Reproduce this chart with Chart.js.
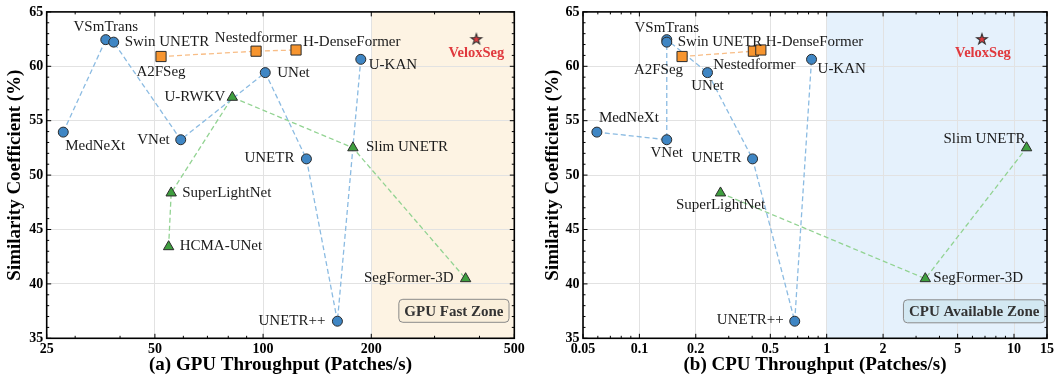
<!DOCTYPE html>
<html>
<head>
<meta charset="utf-8">
<script src="https://cdn.jsdelivr.net/npm/chart.js@4.4.1/dist/chart.umd.min.js"></script>
<style>
  html, body { margin: 0; padding: 0; background: #fff; }
  #wrap { position: relative; width: 1057px; height: 377px; overflow: hidden; }
  #gpu { position: absolute; left: 0; top: 0; }
  #cpu { position: absolute; left: 538px; top: 0; }
</style>
</head>
<body>
<div id="wrap">
  <canvas id="gpu" width="538" height="377"></canvas>
  <canvas id="cpu" width="519" height="377"></canvas>
</div>
<script>
// ---- data ---------------------------------------------------------------
const models = ['MedNeXt', 'VSmTrans', 'Swin UNETR', 'VNet', 'UNet', 'UNETR', 'UNETR++', 'U-KAN',
                'A2FSeg', 'Nestedformer', 'H-DenseFormer',
                'U-RWKV', 'Slim UNETR', 'SuperLightNet', 'HCMA-UNet', 'SegFormer-3D',
                'VeloxSeg'];
const groups = ['general', 'general', 'general', 'general', 'general', 'general', 'general', 'general',
                'multimodal', 'multimodal', 'multimodal',
                'lightweight', 'lightweight', 'lightweight', 'lightweight', 'lightweight',
                'ours'];
// patches per second
const gpuThroughput = [27.8, 36.5, 38.4, 59.0, 101.4, 132, 161, 187,
                       52.0, 95.6, 123.5,
                       82.1, 177.8, 55.5, 54.6, 366,
                       392];
const cpuThroughput = [0.0593, 0.140, 0.140, 0.140, 0.231, 0.402, 0.675, 0.83,
                       0.169, 0.406, 0.445,
                       null, 11.67, 0.271, null, 3.36,
                       6.74];
// similarity coefficient (%)
const similarity = [53.95, 62.45, 62.22, 53.25, 59.42, 51.49, 36.57, 60.64,
                    60.90, 61.39, 61.50,
                    57.15, 52.51, 48.36, 43.42, 40.48,
                    62.51];

const gpuTicks = [25, 50, 100, 200, 500];
const cpuTicks = [0.05, 0.1, 0.2, 0.5, 1, 2, 5, 10, 15];
const similarityTicks = [35, 40, 45, 50, 55, 60, 65];

// ---- styling ------------------------------------------------------------
const SERIF = "'Liberation Serif', 'Times New Roman', Times, serif";
const EDGE = '#2b2b2b';

const groupStyle = {
  general:     { fill: '#3f86c4', line: '#8bbbe2', pointStyle: 'circle',   radius: 5.0 },
  multimodal:  { fill: '#f7952f', line: '#f8bd86', pointStyle: 'rect',     radius: 7.2 },
  lightweight: { fill: '#3f9f3f', line: '#92d392', pointStyle: 'triangle', radius: 6.0 }
};

function starMarker() {
  const c = document.createElement('canvas');
  c.width = 16; c.height = 16;
  const g = c.getContext('2d');
  g.beginPath();
  for (let i = 0; i < 10; i++) {
    const r = i % 2 ? 2.2 : 5.6;
    const a = -Math.PI / 2 + i * Math.PI / 5;
    g.lineTo(8 + r * Math.cos(a), 8.4 + r * Math.sin(a));
  }
  g.closePath();
  g.fillStyle = '#e03a3f';
  g.fill();
  g.lineWidth = 1.1;
  g.strokeStyle = '#333';
  g.stroke();
  return c;
}

// label placement: [align, dx, dy] relative to the marker
const gpuPlacement = {
  'MedNeXt': ['left', 2, 14], 'VSmTrans': ['center', 0, -13], 'Swin UNETR': ['left', 11, 0],
  'A2FSeg': ['center', 0, 16], 'Nestedformer': ['center', 0, -13], 'H-DenseFormer': ['left', 7, -8],
  'UNet': ['left', 12, 0], 'U-KAN': ['left', 8, 6], 'U-RWKV': ['right', -7, 0],
  'VNet': ['right', -11, 0], 'Slim UNETR': ['left', 13, -1], 'UNETR': ['right', -12, -1],
  'SuperLightNet': ['left', 11, 0], 'HCMA-UNet': ['left', 11, -1], 'SegFormer-3D': ['right', -12, -1],
  'UNETR++': ['right', -12, 0], 'VeloxSeg': ['center', 0, 14]
};
const cpuPlacement = {
  'VSmTrans': ['center', 0, -12], 'Swin UNETR': ['left', 11, 0], 'H-DenseFormer': ['left', 5, -8],
  'A2FSeg': ['right', 1, 14], 'Nestedformer': ['center', 1, 14], 'UNet': ['center', 0, 13],
  'U-KAN': ['left', 6, 10], 'MedNeXt': ['left', 2, -14], 'VNet': ['center', 0, 13],
  'UNETR': ['right', -11, -1], 'Slim UNETR': ['right', -1, -9], 'VeloxSeg': ['center', 1, 14],
  'SuperLightNet': ['center', 0, 12], 'SegFormer-3D': ['left', 8, -1], 'UNETR++': ['right', -11, -1]
};

// ---- helpers ------------------------------------------------------------
function pointsFor(xs, group) {
  const pts = [];
  models.forEach((name, i) => {
    if (groups[i] === group && xs[i] != null) pts.push({ x: xs[i], y: similarity[i], name });
  });
  return pts;
}

function buildDatasets(xs) {
  const sets = [];
  Object.keys(groupStyle).forEach(g => {
    const st = groupStyle[g];
    const pts = pointsFor(xs, g);
    const path = pts.slice().sort((a, b) => a.x - b.x || a.y - b.y);
    sets.push({
      data: path, showLine: true, pointRadius: 0, borderColor: st.line, borderWidth: 1.3,
      borderDash: [5, 3], fill: false, order: 10
    });
    sets.push({
      data: pts, showLine: false, pointStyle: st.pointStyle, pointRadius: st.radius,
      backgroundColor: st.fill, borderColor: EDGE, borderWidth: 1, order: 1, labelled: true
    });
  });
  sets.push({
    data: pointsFor(xs, 'ours'), showLine: false, pointStyle: starMarker(), pointRadius: 6,
    order: 0, labelled: true, highlight: true
  });
  return sets;
}

function logMinors(min, max, majors) {
  const out = [];
  for (let e = Math.floor(Math.log10(min)); e <= Math.ceil(Math.log10(max)); e++) {
    for (let m = 1; m < 10; m++) {
      const v = +(m * Math.pow(10, e)).toPrecision(6);
      if (v > min && v < max && !majors.some(t => Math.abs(t - v) / v < 1e-6)) out.push(v);
    }
  }
  return out;
}

function decorPlugin(cfg) {
  return {
    id: 'decor',
    beforeDraw(chart) {
      const { ctx, chartArea: a, scales: { x } } = chart;
      const x0 = x.getPixelForValue(cfg.zoneStart);
      ctx.save();
      ctx.fillStyle = cfg.zoneColor;
      ctx.fillRect(x0, a.top, a.right - x0, a.bottom - a.top);
      ctx.restore();
    },
    afterDatasetsDraw(chart) {
      const ctx = chart.ctx;
      ctx.save();
      ctx.textBaseline = 'middle';
      chart.data.datasets.forEach((ds, di) => {
        if (!ds.labelled) return;
        const meta = chart.getDatasetMeta(di);
        meta.data.forEach((el, i) => {
          const name = ds.data[i].name;
          const p = cfg.placement[name];
          if (!p) return;
          if (ds.highlight) {
            ctx.font = `bold 14.5px ${SERIF}`;
            ctx.fillStyle = '#e0393e';
          } else {
            ctx.font = `15px ${SERIF}`;
            ctx.fillStyle = '#1a1a1a';
          }
          ctx.textAlign = p[0];
          ctx.fillText(name, el.x + p[1], el.y + p[2]);
        });
      });
      ctx.restore();
    },
    afterDraw(chart) {
      const { ctx, chartArea: a, scales: { x, y } } = chart;
      ctx.save();
      // zone caption box
      ctx.font = `bold 15px ${SERIF}`;
      const tw = ctx.measureText(cfg.boxText).width;
      const bw = tw + 11, bh = 23;
      const cx = a.right - cfg.boxRight - bw / 2;
      const cy = a.bottom - cfg.boxBottom;
      ctx.beginPath();
      ctx.roundRect(cx - bw / 2, cy - bh / 2, bw, bh, 4);
      ctx.fillStyle = cfg.boxFill;
      ctx.fill();
      ctx.lineWidth = 1;
      ctx.strokeStyle = '#8a8a8a';
      ctx.stroke();
      ctx.fillStyle = '#333';
      ctx.textAlign = 'center';
      ctx.textBaseline = 'middle';
      ctx.fillText(cfg.boxText, cx, cy + 1);

      // inward ticks on all four sides
      ctx.strokeStyle = '#000';
      ctx.lineWidth = 1;
      const tick = (x1, y1, x2, y2) => { ctx.beginPath(); ctx.moveTo(x1, y1); ctx.lineTo(x2, y2); ctx.stroke(); };
      const xMinor = logMinors(x.min, x.max, cfg.xTicks);
      cfg.xTicks.forEach(v => { const px = x.getPixelForValue(v); tick(px, a.bottom, px, a.bottom - 4.5); tick(px, a.top, px, a.top + 4.5); });
      xMinor.forEach(v => { const px = x.getPixelForValue(v); tick(px, a.bottom, px, a.bottom - 2.5); tick(px, a.top, px, a.top + 2.5); });
      for (let v = 35; v <= 65; v++) {
        const py = y.getPixelForValue(v);
        const len = v % 5 === 0 ? 4.5 : 2.5;
        tick(a.left, py, a.left + len, py);
        tick(a.right, py, a.right - len, py);
      }
      // frame
      ctx.lineWidth = 1.6;
      ctx.strokeRect(a.left, a.top, a.right - a.left, a.bottom - a.top);
      ctx.restore();
    }
  };
}

function makePanel(id, xs, cfg) {
  const tickFont = { family: SERIF, size: 14, weight: 'bold' };
  const titleFont = { family: SERIF, size: 19, weight: 'bold' };
  new Chart(document.getElementById(id), {
    type: 'scatter',
    data: { datasets: buildDatasets(xs) },
    options: {
      responsive: false,
      animation: false,
      events: [],
      layout: { padding: { left: 0, right: cfg.padRight, top: 9.4, bottom: 0 } },
      plugins: { legend: { display: false }, tooltip: { enabled: false } },
      scales: {
        x: {
          type: 'logarithmic', min: cfg.xTicks[0], max: cfg.xTicks[cfg.xTicks.length - 1],
          afterBuildTicks: s => { s.ticks = cfg.xTicks.map(v => ({ value: v })); },
          afterFit: s => { s.height = 38.7; },
          ticks: { callback: v => String(v), font: tickFont, color: '#000', padding: 3, maxRotation: 0, autoSkip: false },
          grid: { color: '#e2e2e2', lineWidth: 1, drawTicks: false },
          border: { display: false },
          title: { display: true, text: cfg.xTitle, font: titleFont, color: '#000', padding: { top: 0, bottom: 1 } }
        },
        y: {
          type: 'linear', min: 35, max: 65,
          afterBuildTicks: s => { s.ticks = similarityTicks.map(v => ({ value: v })); },
          afterFit: s => { s.width = cfg.yWidth; },
          ticks: { font: tickFont, color: '#000', padding: 3.5 },
          grid: { color: '#e2e2e2', lineWidth: 1, drawTicks: false },
          border: { display: false },
          title: { display: true, text: 'Similarity Coefficient (%)', font: titleFont, color: '#000', padding: { top: 4, bottom: 0 } }
        }
      }
    },
    plugins: [decorPlugin(cfg)]
  });
}

makePanel('gpu', gpuThroughput, {
  xTicks: gpuTicks, xTitle: '(a) GPU Throughput (Patches/s)',
  padRight: 23.7, yWidth: 46.7,
  zoneStart: 200, zoneColor: '#fdf3e3',
  boxText: 'GPU Fast Zone', boxFill: '#faefdb', boxRight: 5.3, boxBottom: 27.5,
  placement: gpuPlacement
});

makePanel('cpu', cpuThroughput, {
  xTicks: cpuTicks, xTitle: '(b) CPU Throughput (Patches/s)',
  padRight: 9.5, yWidth: 45,
  zoneStart: 1, zoneColor: '#e5f1fc',
  boxText: 'CPU Available Zone', boxFill: '#d3e8f2', boxRight: 2, boxBottom: 27,
  placement: cpuPlacement
});
</script>
</body>
</html>
